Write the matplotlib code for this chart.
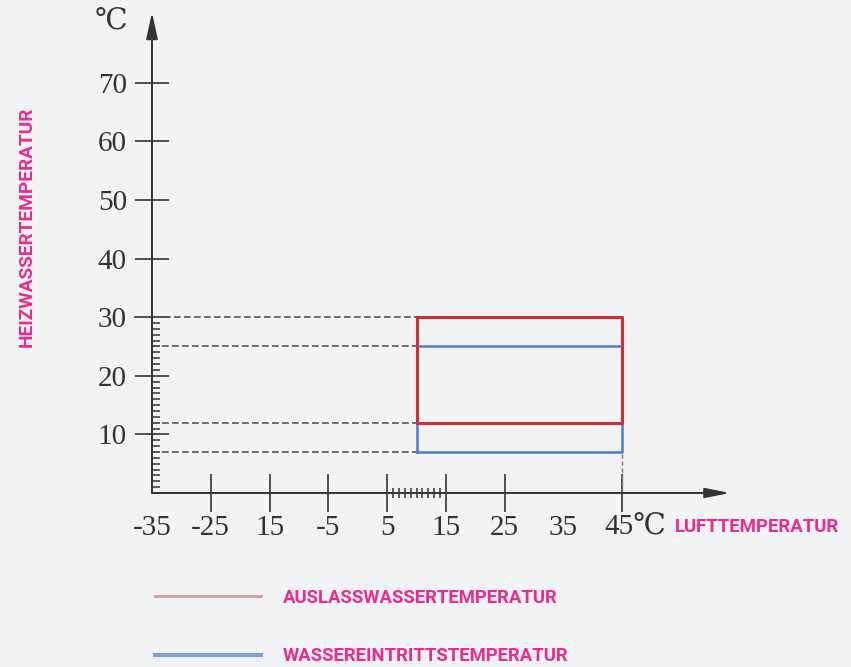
import matplotlib
matplotlib.use("Agg")
import matplotlib.pyplot as plt
from matplotlib.lines import Line2D
from matplotlib.transforms import ScaledTranslation

# data
x_tick_pos = [-35, -25, -15, -5, 5, 15, 25, 35, 45]
x_tick_labels = ["-35", "-25", "15", "-5", "5", "15", "25", "35", "45\u2103"]
x_fine_ticks = list(range(6, 15))
y_tick_pos = [10, 20, 30, 40, 50, 60, 70]
y_fine_ticks = list(range(1, 30))

air_range = (10, 45)           # Lufttemperatur
outlet_range = (12, 30)        # Auslasswassertemperatur
inlet_range = (7, 25)          # Wassereintrittstemperatur
guide_levels = [30, 25, 12, 7]
legend_labels = ["AUSLASSWASSERTEMPERATUR", "WASSEREINTRITTSTEMPERATUR"]

BG = "#f2f3f5"
INK = "#333333"
PINK = "#ee2a8c"
RED = "#d42f2f"
BLUE = "#4a7dd4"
SERIF = ["Liberation Serif", "DejaVu Serif", "DejaVu Sans"]
TITLE_FONT = ["Roboto", "DejaVu Sans"]

fig = plt.figure(figsize=(8.51, 6.67), dpi=100, facecolor=BG)
ax = fig.add_axes([0.1786, 0.2609, 0.684, 0.7204])
ax.set_facecolor(BG)
ax.set_xlim(-35, 64)
ax.set_ylim(0, 82)
for s in ax.spines.values():
    s.set_visible(False)

# axes with arrows
ax.annotate("", xy=(-35, 82), xytext=(-35, 0),
            arrowprops=dict(arrowstyle="-|>,head_length=1.6,head_width=0.35",
                            color=INK, lw=1.4, shrinkA=0, shrinkB=0))
ax.annotate("", xy=(63.3, 0), xytext=(-35, 0),
            arrowprops=dict(arrowstyle="-|>,head_length=1.5,head_width=0.3",
                            color=INK, lw=1.4, shrinkA=0, shrinkB=0))

# ticks
ax.set_xticks(x_tick_pos)
ax.set_xticklabels(x_tick_labels, family=SERIF, fontsize=21, color=INK)
ax.set_xticks(x_fine_ticks, minor=True)
ax.tick_params(axis="x", which="major", direction="inout", length=27, width=1.2,
               color=INK, pad=2)
ax.tick_params(axis="x", which="minor", direction="inout", length=7, width=1.1,
               color=INK)
for t, pos in zip(ax.xaxis.get_major_ticks(), x_tick_pos):
    if pos in (-35, 35):
        t.tick1line.set_visible(False)
lbl45 = ax.get_xticklabels()[-1]
lbl45.set_transform(lbl45.get_transform() + ScaledTranslation(13 / 100, 0, fig.dpi_scale_trans))

ax.set_yticks(y_tick_pos)
ax.set_yticklabels([str(v) for v in y_tick_pos], family=SERIF, fontsize=21, color=INK)
ax.set_yticks(y_fine_ticks, minor=True)
ax.tick_params(axis="y", which="major", direction="inout", length=24, width=1.2,
               color=INK, pad=6)
ax.tick_params(axis="y", which="minor", direction="in", length=6, width=1.1,
               color=INK)

ax.text(-42, 80.3, "\u2103", family=SERIF, fontsize=21, color=INK,
        ha="center", va="center")

# dashed guide lines
for lvl in guide_levels:
    x0 = -38 if lvl == 30 else -35
    ax.plot([x0, air_range[0]], [lvl, lvl], color="#555555", lw=1.2,
            ls=(0, (4, 2)), clip_on=False)
ax.plot([air_range[1], air_range[1]], [0, inlet_range[0]], color="#777777",
        lw=1.0, ls=(0, (3, 2)))

# operating ranges
ax.plot([air_range[0], air_range[1], air_range[1], air_range[0], air_range[0]],
        [inlet_range[0], inlet_range[0], inlet_range[1], inlet_range[1], inlet_range[0]],
        color=BLUE, lw=1.8)
ax.plot([air_range[0], air_range[1], air_range[1], air_range[0], air_range[0]],
        [outlet_range[0], outlet_range[0], outlet_range[1], outlet_range[1], outlet_range[0]],
        color=RED, lw=2.2)


def _fit_size(txt, target_px, base=16):
    """Font size at which txt in the title face spans target_px pixels."""
    probe = fig.text(0, 0, txt, family=TITLE_FONT, weight="bold", fontsize=base)
    w = probe.get_window_extent(fig.canvas.get_renderer()).width
    probe.remove()
    return base * target_px / w


# axis titles
fig.text(675 / 851, 1 - 527 / 667, "LUFTTEMPERATUR", family=TITLE_FONT, weight="bold",
         fontsize=_fit_size("LUFTTEMPERATUR", 165), color=PINK, ha="left", va="center")
fig.text(27 / 851, 1 - 227 / 667, "HEIZWASSERTEMPERATUR", family=TITLE_FONT,
         weight="bold", fontsize=_fit_size("HEIZWASSERTEMPERATUR", 240), color=PINK,
         ha="center", va="center", rotation=90)

# legend
fs = _fit_size(legend_labels[0], 275)
handles = [Line2D([], [], color="#d4a0a0", lw=2.2),
           Line2D([], [], color="#7f9fd6", lw=3)]
leg = fig.legend(handles, legend_labels,
                 loc="center left", bbox_to_anchor=(155 / 851, 1 - 627 / 667),
                 frameon=False, handlelength=76 / fs, handletextpad=16 / fs,
                 labelspacing=(42.5 - fs) / fs, borderaxespad=0, borderpad=0,
                 prop=dict(family=TITLE_FONT, weight="bold", size=fs))
for t in leg.get_texts():
    t.set_color(PINK)

fig.savefig("out.png", dpi=100, facecolor=BG)
